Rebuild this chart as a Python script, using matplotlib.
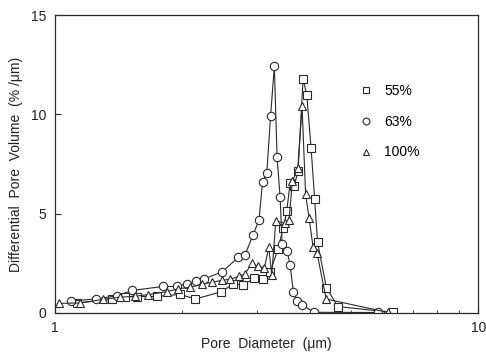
import numpy as np
import matplotlib
matplotlib.use("Agg")
import matplotlib.pyplot as plt
from matplotlib.ticker import NullFormatter

# =========================
# Data
# =========================
d55 = [1.127, 1.364, 1.464, 1.563, 1.742, 1.975, 2.148, 2.468, 2.635, 2.783,
       2.954, 3.108, 3.223, 3.367, 3.459, 3.530, 3.594, 3.673, 3.753, 3.857,
       3.936, 4.029, 4.107, 4.174, 4.379, 4.660, 6.30]
v55 = [0.50, 0.68, 0.81, 0.82, 0.83, 0.93, 0.70, 1.06, 1.45, 1.41,
       1.74, 1.71, 2.06, 3.23, 4.26, 5.13, 6.54, 6.39, 7.14, 11.80,
       10.95, 8.29, 5.74, 3.55, 1.26, 0.32, 0.02]

d63 = [1.091, 1.250, 1.402, 1.521, 1.800, 1.943, 2.051, 2.154, 2.250, 2.482,
       2.708, 2.813, 2.938, 3.035, 3.094, 3.166, 3.232, 3.299, 3.348, 3.404,
       3.441, 3.536, 3.594, 3.660, 3.728, 3.836, 4.097, 5.80]
v63 = [0.60, 0.70, 0.86, 1.13, 1.33, 1.33, 1.48, 1.59, 1.71, 2.06,
       2.79, 2.92, 3.93, 4.68, 6.61, 7.03, 9.91, 12.43, 7.85, 5.84,
       3.47, 3.12, 2.39, 1.06, 0.60, 0.40, 0.03, 0.02]

d100 = [1.024, 1.149, 1.299, 1.424, 1.550, 1.659, 1.840, 1.953, 2.085, 2.223,
        2.347, 2.478, 2.593, 2.716, 2.813, 2.917, 3.019, 3.125, 3.200, 3.253,
        3.325, 3.497, 3.574, 3.639, 3.748, 3.836, 3.910, 3.985, 4.073, 4.163,
        4.372, 6.13]
v100 = [0.48, 0.50, 0.68, 0.79, 0.84, 0.92, 1.07, 1.21, 1.29, 1.44,
        1.54, 1.64, 1.69, 1.84, 1.96, 2.50, 2.35, 2.27, 3.30, 1.91,
        4.63, 4.52, 4.68, 6.64, 7.28, 10.40, 5.97, 4.78, 3.30, 3.00,
        0.70, 0.02]

labels = ["55%", "63%", "100%"]

plt.rcParams['font.family'] = ['Liberation Sans', 'DejaVu Sans']
plt.rcParams['font.size'] = 10

fig = plt.figure(figsize=(4.86, 3.58), dpi=100)
ax = fig.add_axes([0.113, 0.126, 0.871, 0.832])

lc = "#2a2a2a"
style = dict(color=lc, lw=0.8, mfc="white", mec=lc, mew=0.8, ms=6)
ax.plot(d55, v55, marker="s", label=labels[0], **style)
ax.plot(d63, v63, marker="o", label=labels[1], **style)
ax.plot(d100, v100, marker="^", label=labels[2], **style)

ax.set_xscale("log")
ax.set_xlim(1, 10)
ax.set_ylim(0, 15)
ax.set_xticks([1, 10])
ax.set_xticklabels(["1", "10"])
ax.xaxis.set_minor_formatter(NullFormatter())
ax.set_yticks([0, 5, 10, 15])
ax.tick_params(axis="both", which="both", direction="in", colors=lc,
               labelcolor="#222222")
ax.tick_params(axis="both", which="major", length=4, pad=6)
ax.tick_params(axis="x", which="minor", length=2)
for s in ax.spines.values():
    s.set_color(lc)
    s.set_linewidth(0.9)

ax.set_xlabel("Pore  Diameter  (\u03bcm)", color="#222222", labelpad=1)
ax.set_ylabel("Differential  Pore  Volume  (% /\u03bcm)", color="#222222",
              labelpad=6)

# legend markers only
leg_h = []
for m in ["s", "o", "^"]:
    leg_h.append(plt.Line2D([], [], ls="none", marker=m, mfc="white",
                            mec=lc, mew=0.8, ms=5))
ax.legend(leg_h, labels, loc="upper left", bbox_to_anchor=(0.69, 0.81),
          frameon=False, handlelength=1.0, handletextpad=0.8,
          labelspacing=1.2, fontsize=10)

fig.savefig("out.png", dpi=100)
